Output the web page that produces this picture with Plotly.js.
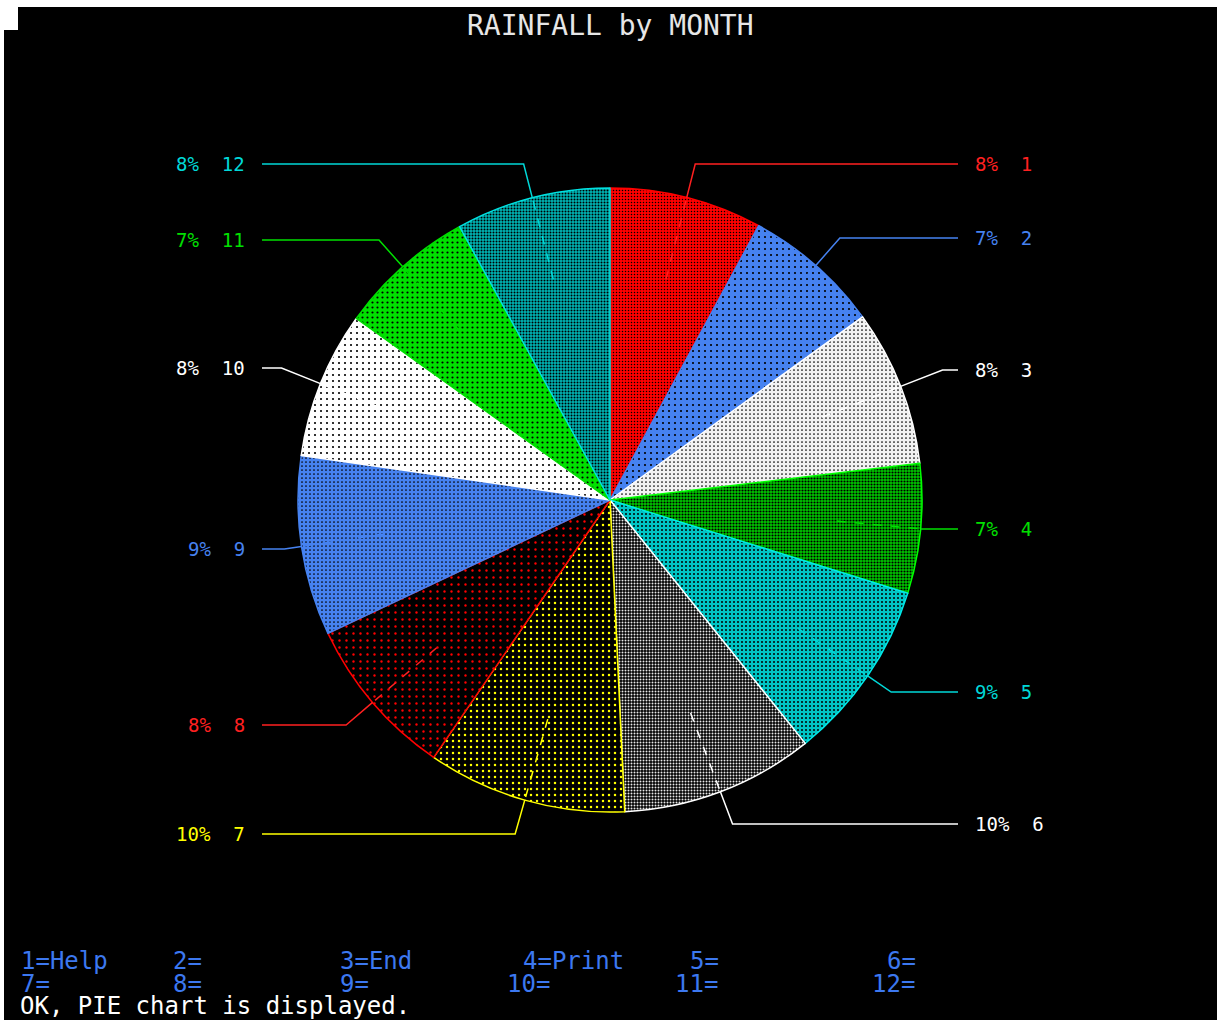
<!DOCTYPE html>
<html>
<head>
<meta charset="utf-8">
<script src="https://cdn.plot.ly/plotly-3.0.1.min.js"></script>
<style>
html,body{margin:0;padding:0;background:#000;}
#chart{width:1217px;height:1020px;}
</style>
</head>
<body>
<div id="chart"></div>
<script>
// ---- data ----
const months = ["1","2","3","4","5","6","7","8","9","10","11","12"];
const rainfall = [79, 71, 81, 67, 94, 100, 103, 84, 93, 76, 71, 80];
const sliceBg = ["#ff0000","#4682f0","#f2f2f2","#00c800","#00c4c4","#000000","#000000","#000000","#4682f0","#ffffff","#00e000","#00b4b4"];
const sliceFg = ["#000000","#000000","#000000","#000000","#000000","#e8e8e8","#ffff00","#ff0000","#000000","#000000","#000000","#000000"];
const patSize = [3, 6, 4, 3, 4, 3, 6, 7, 4, 6, 5, 3];
const patSolid = [0.2, 0.1, 0.15, 0.4, 0.2, 0.35, 0.14, 0.09, 0.15, 0.1, 0.15, 0.35];
const edgeColors = ["#ff0000","#4682f0","#ffffff","#00ff00","#00e8e8","#ffffff","#ffff00","#ff0000","#4682f0","#ffffff","#00e000","#00e0e0"];
const labelColors = ["#ff2020","#4682f0","#ffffff","#00e000","#00d8d8","#ffffff","#ffff00","#ff2020","#4682f0","#ffffff","#00e000","#00d8d8"];
// label row (pixel y) for each month label
const labelY = [164, 238, 370, 529, 692, 824, 834, 725, 549, 368, 240, 164];
const fkeyRow1 = ["1=Help","2=","3=End","4=Print","5=","6="];
const fkeyRow2 = ["7=","8=","9=","10=","11=","12="];
const fkeyCols1 = [0, 10, 21, 33, 44, 57];
const fkeyCols2 = [0, 10, 21, 32, 43, 56];
const statusText = "OK, PIE chart is displayed.";
const titleText = "RAINFALL by MONTH";

// ---- layout geometry ----
const W = 1217, H = 1020;
const CX = 610, CY = 500, R = 312;
const px = x => x / W;
const py = y => 1 - y / H;

const total = rainfall.reduce((a, b) => a + b, 0);
const shapes = [];
const annotations = [];

// background framing
shapes.push({type:"rect", xref:"paper", yref:"paper", x0:0, x1:1, y0:py(7), y1:1, fillcolor:"#ffffff", line:{width:0}, layer:"below"});
shapes.push({type:"rect", xref:"paper", yref:"paper", x0:0, x1:px(4), y0:0, y1:1, fillcolor:"#ffffff", line:{width:0}, layer:"below"});
shapes.push({type:"rect", xref:"paper", yref:"paper", x0:0, x1:px(18), y0:py(30), y1:1, fillcolor:"#ffffff", line:{width:0}, layer:"below"});

let cum = 0;
rainfall.forEach((v, i) => {
  const mid = (cum + v / 2) / total * 2 * Math.PI; // clockwise from 12 o'clock
  cum += v;
  const sx = Math.sin(mid), sy = -Math.cos(mid);
  const pct = Math.round(v / total * 100);
  const right = sx >= 0;
  const ly = labelY[i];
  const ix = CX + 0.73 * R * sx, iy = CY + 0.73 * R * sy;
  const ex = CX + R * sx, ey = CY + R * sy;
  let t = Math.abs(sy) > 1e-6 ? (ly - CY) / sy : 1e6;
  let elx = CX + t * sx;
  const endX = right ? 958 : 262;
  if (t < R || (right && elx > endX - 4) || (!right && elx < endX + 4)) {
    elx = right ? Math.min(elx, endX - 18) : Math.max(elx, endX + 18);
  }
  const col = labelColors[i];
  shapes.push({type:"line", xref:"paper", yref:"paper", x0:px(ix), y0:py(iy), x1:px(ex), y1:py(ey),
               line:{color:col, width:1.5, dash:"dash"}});
  shapes.push({type:"path", xref:"paper", yref:"paper",
               path:`M ${px(ex)} ${py(ey)} L ${px(elx)} ${py(ly)} L ${px(endX)} ${py(ly)}`,
               line:{color:col, width:1.5}});
  const txt = pct + "%\u00a0\u00a0" + months[i];
  annotations.push({xref:"paper", yref:"paper", x: right ? px(973) : px(247), y: py(ly),
    xanchor: right ? "left" : "right", yanchor:"middle", showarrow:false, text: txt,
    font:{family:"DejaVu Sans Mono", size:19, color:col}});
});

// title
annotations.push({xref:"paper", yref:"paper", x:px(610), y:py(25), xanchor:"center", yanchor:"middle",
  showarrow:false, text:titleText, font:{family:"DejaVu Sans Mono", size:28, color:"#e6e6e6"}});

// function keys
const CW = 15.2;
fkeyRow1.forEach((t, k) => annotations.push({xref:"paper", yref:"paper", x:px(19 + fkeyCols1[k]*CW), y:py(961),
  xanchor:"left", yanchor:"middle", showarrow:false, text:t, font:{family:"DejaVu Sans Mono", size:24, color:"#3c78f0"}}));
fkeyRow2.forEach((t, k) => annotations.push({xref:"paper", yref:"paper", x:px(19 + fkeyCols2[k]*CW), y:py(984),
  xanchor:"left", yanchor:"middle", showarrow:false, text:t, font:{family:"DejaVu Sans Mono", size:24, color:"#3c78f0"}}));
annotations.push({xref:"paper", yref:"paper", x:px(18), y:py(1006), xanchor:"left", yanchor:"middle",
  showarrow:false, text:statusText, font:{family:"DejaVu Sans Mono", size:24, color:"#ffffff"}});

const trace = {
  type:"pie",
  values: rainfall,
  labels: months,
  sort:false,
  direction:"clockwise",
  rotation:0,
  textinfo:"none",
  hoverinfo:"label+percent",
  showlegend:false,
  domain:{x:[px(CX - R), px(CX + R)], y:[py(CY + R), py(CY - R)]},
  marker:{
    colors: sliceBg,
    line:{color: edgeColors, width:1.5},
    pattern:{shape:".", fillmode:"replace", bgcolor: sliceBg, fgcolor: sliceFg, size: patSize, solidity: patSolid}
  }
};

const layout = {
  width:W, height:H, autosize:false,
  margin:{l:0, r:0, t:0, b:0, pad:0},
  paper_bgcolor:"#000000",
  plot_bgcolor:"#000000",
  showlegend:false,
  shapes: shapes,
  annotations: annotations
};

Plotly.newPlot("chart", [trace], layout, {displayModeBar:false, staticPlot:true});
</script>
</body>
</html>
